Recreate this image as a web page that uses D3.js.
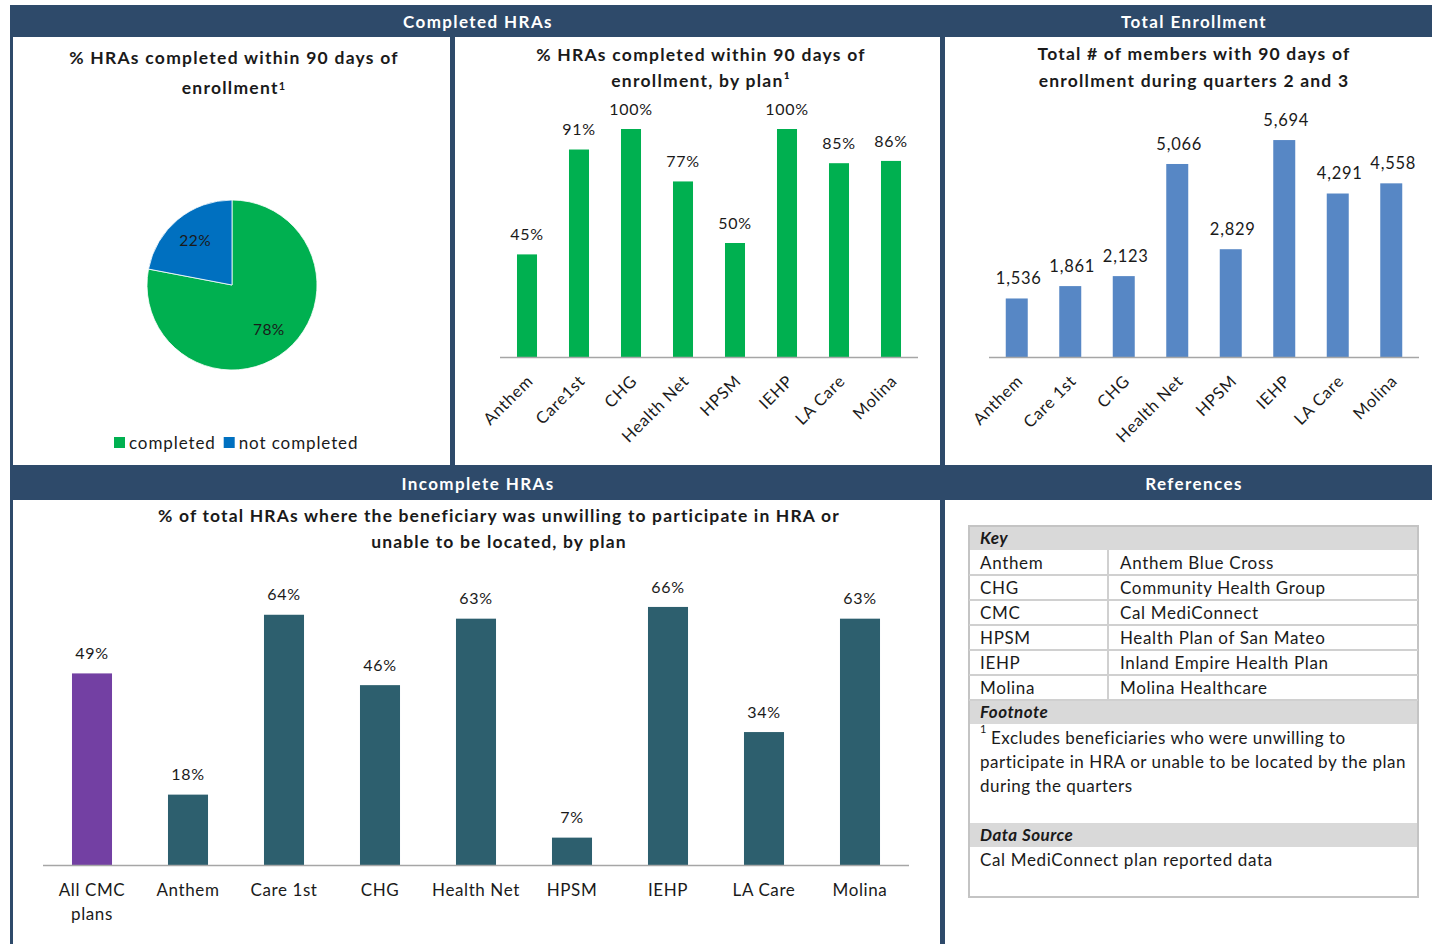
<!DOCTYPE html>
<html>
<head>
<meta charset="utf-8">
<script src="https://cdn.jsdelivr.net/npm/d3@7"></script>
<style>
  body { margin: 0; background: #fff; }
  svg { display: block; font-family: Lato, "Open Sans", sans-serif; }
</style>
</head>
<body>
<svg id="chart" width="1432" height="944"></svg>
<script>
// ---------- DATA ----------
const pieCategories = ["completed", "not completed"];
const pieValues = [78, 22];

const completedPlans = ["Anthem", "Care1st", "CHG", "Health Net", "HPSM", "IEHP", "LA Care", "Molina"];
const completedPct = [45, 91, 100, 77, 50, 100, 85, 86];

const enrollPlans = ["Anthem", "Care 1st", "CHG", "Health Net", "HPSM", "IEHP", "LA Care", "Molina"];
const enrollValues = [1536, 1861, 2123, 5066, 2829, 5694, 4291, 4558];

const incompletePlans = ["All CMC plans", "Anthem", "Care 1st", "CHG", "Health Net", "HPSM", "IEHP", "LA Care", "Molina"];
const incompletePct = [49, 18, 64, 46, 63, 7, 66, 34, 63];

const keyAbbr = ["Anthem", "CHG", "CMC", "HPSM", "IEHP", "Molina"];
const keyNames = ["Anthem Blue Cross", "Community Health Group", "Cal MediConnect", "Health Plan of San Mateo", "Inland Empire Health Plan", "Molina Healthcare"];
const footnoteLines = ["Excludes beneficiaries who were unwilling to", "participate in HRA or unable to be located by the plan", "during the quarters"];
const dataSource = "Cal MediConnect plan reported data";

// ---------- STYLE ----------
const NAVY = "#2e4a6a";
const GREEN = "#00b050";
const PIEBLUE = "#0070c0";
const BARBLUE = "#5787c5";
const PURPLE = "#7340a3";
const TEAL = "#2d5f6e";
const AXIS = "#a6a6a6";
const TXT = "#1a1a1a";
const LS = 0.75;

const svg = d3.select("#chart");

// background frame
svg.append("rect").attr("x", 10).attr("y", 5).attr("width", 1422).attr("height", 939).attr("fill", NAVY);
const panels = [
  [13, 37, 437, 428], [455, 37, 485, 428], [945, 37, 487, 428],
  [13, 500, 927, 444], [945, 500, 487, 444]
];
svg.selectAll("rect.panel").data(panels).join("rect").attr("class", "panel")
  .attr("x", d => d[0]).attr("y", d => d[1]).attr("width", d => d[2]).attr("height", d => d[3])
  .attr("fill", "#fff");

// headers
const headers = [["Completed HRAs", 478, 22], ["Total Enrollment", 1194, 22], ["Incomplete HRAs", 478, 484], ["References", 1194, 484]];
svg.selectAll("text.hdr").data(headers).join("text").attr("class", "hdr")
  .attr("x", d => d[1]).attr("y", d => d[2]).attr("dy", "0.35em")
  .attr("text-anchor", "middle").attr("fill", "#fff").attr("font-weight", "bold")
  .attr("font-size", 17).attr("letter-spacing", 1.4).text(d => d[0]);

function title(lines, cx, y0, lh, ls) {
  const t = svg.append("text").attr("text-anchor", "middle").attr("font-weight", "bold")
    .attr("font-size", 17.5).attr("fill", TXT).attr("letter-spacing", ls);
  lines.forEach((l, i) => {
    const ts = t.append("tspan").attr("x", cx).attr("y", y0 + i * lh).attr("dy", "0.35em");
    if (Array.isArray(l)) {
      ts.text(l[0]);
      t.append("tspan").attr("font-size", 11).attr("dy", "-0.4em").text(l[1]);
    } else ts.text(l);
  });
}

// ---------- PANEL 1: PIE ----------
title(["% HRAs completed within 90 days of", ["enrollment", "1"]], 234, 58, 30, 1.25);
const pieColor = d3.scaleOrdinal().domain(pieCategories).range([GREEN, PIEBLUE]);
const pie = d3.pie().sort(null).value(d => d.v);
const pieData = pie(pieCategories.map((c, i) => ({ c, v: pieValues[i] })));
const R = 85;
const arc = d3.arc().innerRadius(0).outerRadius(R);
const labelArc = d3.arc().innerRadius(R * 0.68).outerRadius(R * 0.68);
const pg = svg.append("g").attr("transform", "translate(232,285)");
pg.selectAll("path").data(pieData).join("path").attr("d", arc)
  .attr("fill", d => pieColor(d.data.c)).attr("stroke", "#fff").attr("stroke-width", 0.8);
pg.selectAll("text").data(pieData).join("text")
  .attr("transform", d => `translate(${labelArc.centroid(d)})`)
  .attr("text-anchor", "middle").attr("dy", "0.35em").attr("font-size", 15.5).attr("fill", TXT)
  .attr("letter-spacing", 0.5)
  .text(d => d.data.v + "%");
// legend
const lg = svg.append("g").attr("transform", "translate(114,443)");
let lx = 0;
pieCategories.forEach((c, i) => {
  lg.append("rect").attr("x", lx).attr("y", -6).attr("width", 11).attr("height", 11).attr("fill", pieColor(c));
  const t = lg.append("text").attr("x", lx + 15).attr("dy", "0.35em").attr("font-size", 17)
    .attr("letter-spacing", 0.9).attr("fill", TXT).text(c);
  lx += 15 + t.node().getComputedTextLength() + 8;
});

// ---------- bar helper ----------
function barChart(opts) {
  const x = d3.scaleBand().domain(opts.cats).range(opts.xr)
    .paddingInner(opts.pad).paddingOuter(opts.pad / 2);
  const y = d3.scaleLinear().domain(opts.yd).range(opts.yr);
  const g = svg.append("g");
  g.selectAll("rect").data(opts.cats).join("rect")
    .attr("x", c => x(c)).attr("width", x.bandwidth())
    .attr("y", (c, i) => y(opts.vals[i])).attr("height", (c, i) => y(0) - y(opts.vals[i]))
    .attr("fill", (c, i) => opts.color(i));
  g.append("line").attr("x1", opts.xr[0] - 1).attr("x2", opts.xr[1] + 1)
    .attr("y1", y(0) + 0.5).attr("y2", y(0) + 0.5).attr("stroke", AXIS).attr("stroke-width", 1.5);
  g.selectAll("text.val").data(opts.cats).join("text").attr("class", "val")
    .attr("x", c => x(c) + x.bandwidth() / 2 + (opts.valDx || 0))
    .attr("y", (c, i) => y(opts.vals[i]) - 20).attr("dy", "0.35em")
    .attr("text-anchor", "middle").attr("font-size", opts.valSize).attr("fill", TXT)
    .attr("letter-spacing", LS)
    .text((c, i) => opts.fmt(opts.vals[i]));
  return { x, y, g };
}

function rotatedLabels(b, cats) {
  b.g.selectAll("text.cat").data(cats).join("text").attr("class", "cat")
    .attr("transform", c => `translate(${b.x(c) + b.x.bandwidth() / 2 + 3},378) rotate(-45)`)
    .attr("text-anchor", "end").attr("dy", "0.35em").attr("font-size", 16.5)
    .attr("letter-spacing", LS).attr("fill", TXT).text(c => c);
}

// ---------- PANEL 2 ----------
title(["% HRAs completed within 90 days of", "enrollment, by plan¹"], 701, 55, 26, 1.25);
const b2 = barChart({
  cats: completedPlans, vals: completedPct, xr: [501, 917], pad: 0.615,
  yd: [0, 100], yr: [357, 129], color: () => GREEN, valSize: 16, fmt: v => v + "%"
});
rotatedLabels(b2, completedPlans);

// ---------- PANEL 3 ----------
title(["Total # of members with 90 days of", "enrollment during quarters 2 and 3"], 1194, 54, 27, 1.2);
const b3 = barChart({
  cats: enrollPlans, vals: enrollValues, xr: [990, 1418], pad: 0.589,
  yd: [0, 6000], yr: [357, 128.4], color: () => BARBLUE, valSize: 16.5, fmt: d3.format(","), valDx: 2
});
rotatedLabels(b3, enrollPlans);

// ---------- PANEL 4 ----------
title(["% of total HRAs where the beneficiary was unwilling to participate in HRA or", "unable to be located, by plan"], 499, 516, 26, 1.15);
const b4 = barChart({
  cats: incompletePlans, vals: incompletePct, xr: [44, 908], pad: 0.583,
  yd: [0, 100], yr: [865, 474], color: i => i === 0 ? PURPLE : TEAL, valSize: 16, fmt: v => v + "%"
});
b4.g.selectAll("text.cat").data(incompletePlans).join("text").attr("class", "cat")
  .attr("x", c => b4.x(c) + b4.x.bandwidth() / 2).attr("y", 890)
  .attr("text-anchor", "middle").attr("font-size", 17).attr("letter-spacing", 0.6).attr("fill", TXT)
  .each(function (c) {
    const t = d3.select(this);
    const parts = c === "All CMC plans" ? ["All CMC", "plans"] : [c];
    parts.forEach((p, i) => t.append("tspan").attr("x", b4.x(c) + b4.x.bandwidth() / 2)
      .attr("y", 890 + i * 24).attr("dy", "0.35em").text(p));
  });

// ---------- PANEL 5: REFERENCES TABLE ----------
const tb = svg.append("g");
const TX = 969, TW = 449, TX2 = 1108;
const GRAYROW = "#d9d9d9", SEP = "#d0d0d0";
const TFS = 17, TLS = 0.65;
tb.append("rect").attr("x", TX).attr("y", 526).attr("width", TW).attr("height", 371)
  .attr("fill", "#fff").attr("stroke", "#c4c4c4").attr("stroke-width", 2);
function grayRow(y, h, label) {
  tb.append("rect").attr("x", TX + 1).attr("y", y).attr("width", TW - 2).attr("height", h).attr("fill", GRAYROW);
  tb.append("text").attr("x", 980).attr("y", y + h / 2).attr("dy", "0.35em").attr("font-size", TFS)
    .attr("font-weight", "bold").attr("font-style", "italic").attr("letter-spacing", 0.5).attr("fill", TXT).text(label);
}
grayRow(527, 23, "Key");
const rowH = 25, row0 = 550;
keyAbbr.forEach((a, i) => {
  const y = row0 + i * rowH;
  tb.append("line").attr("x1", TX).attr("x2", TX + TW).attr("y1", y + rowH).attr("y2", y + rowH)
    .attr("stroke", SEP).attr("stroke-width", 2);
  tb.append("text").attr("x", 980).attr("y", y + rowH / 2 + 1).attr("dy", "0.35em").attr("font-size", TFS)
    .attr("letter-spacing", TLS).attr("fill", TXT).text(a);
  tb.append("text").attr("x", 1120).attr("y", y + rowH / 2 + 1).attr("dy", "0.35em").attr("font-size", TFS)
    .attr("letter-spacing", TLS).attr("fill", TXT).text(keyNames[i]);
});
tb.append("line").attr("x1", TX2).attr("x2", TX2).attr("y1", 550).attr("y2", 700).attr("stroke", SEP).attr("stroke-width", 2);
grayRow(701, 23, "Footnote");
tb.append("text").attr("x", 980).attr("y", 733).attr("font-size", 11).attr("fill", TXT).text("1");
footnoteLines.forEach((l, i) => {
  tb.append("text").attr("x", i === 0 ? 991 : 980).attr("y", 738 + i * 24).attr("dy", "0.35em")
    .attr("font-size", TFS).attr("letter-spacing", 0.5).attr("fill", TXT).text(l);
});
grayRow(823, 24, "Data Source");
tb.append("text").attr("x", 980).attr("y", 860).attr("dy", "0.35em").attr("font-size", TFS)
  .attr("letter-spacing", TLS).attr("fill", TXT).text(dataSource);
</script>
</body>
</html>
